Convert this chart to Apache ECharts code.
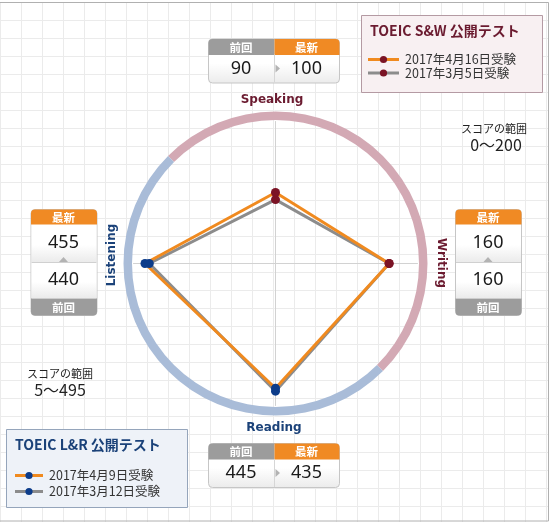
<!DOCTYPE html>
<html><head><meta charset="utf-8">
<script src="https://cdn.jsdelivr.net/npm/echarts@6/dist/echarts.min.js"></script>
<style>html,body{margin:0;padding:0;background:#fff;}#c{width:549px;height:522px;}</style>
</head><body><div id="c"></div>
<script>
// ---- data ----
const skills = ['Speaking', 'Listening', 'Reading', 'Writing'];   // counter-clockwise from top
const skillMax = [200, 495, 495, 200];
const skillTest = ['SW', 'LR', 'LR', 'SW'];
const latestScores = [100, 455, 435, 160];
const previousScores = [90, 440, 445, 160];
const swTitle = 'TOEIC S&W 公開テスト';
const lrTitle = 'TOEIC L&R 公開テスト';
const swDates = ['2017年4月16日受験', '2017年3月5日受験'];
const lrDates = ['2017年4月9日受験', '2017年3月12日受験'];
const rangeCaption = 'スコアの範囲';
const swRange = '0～200';
const lrRange = '5～495';
const headLatest = '最新';
const headPrev = '前回';
const ringShares = [1, 1];

// ---- style ----
const CENTER = [275.5, 263.5];
const R = 142;
const ORANGE = '#f08a1f', GRAY = '#8c8c8c', MAROON = '#7b1325', NAVY = '#0c3c8a';
const SW_TXT = '#6b1b30', LR_TXT = '#1b4279';
const JP = '"Noto Sans CJK JP", "Noto Sans", sans-serif';
const NUM = '"Noto Sans", "Noto Sans CJK JP", sans-serif';
const LAT = '"DejaVu Sans", sans-serif';

function dots(test, scores) {
  return skills.map((s, i) => skillTest[i] === test ? [scores[i], s] : null).filter(Boolean);
}
function txt(x, y, text, size, weight, family, fill, align, extra) {
  return Object.assign({
    type: 'text', x: x, y: y, silent: true,
    style: { text: text, fontSize: size, fontWeight: weight, fontFamily: family, fill: fill,
             align: align || 'center', verticalAlign: 'middle' }
  }, extra || {});
}
const cellGrad = { type: 'linear', x: 0, y: 0, x2: 0, y2: 1,
  colorStops: [{ offset: 0, color: '#ffffff' }, { offset: 0.55, color: '#ffffff' }, { offset: 1, color: '#ebebeb' }] };

function hBox(x, y, i) {
  const w = 131, h = 44, hh = 16, half = 66;
  return { type: 'group', x: x, y: y, silent: true, children: [
    { type: 'rect', shape: { x: 0.5, y: 0.5, width: w, height: h, r: 4 }, style: { fill: cellGrad, stroke: '#c6c6c6', lineWidth: 1 } },
    { type: 'rect', shape: { x: 0.5, y: 0.5, width: half, height: hh, r: [4, 0, 0, 0] }, style: { fill: '#9c9c9c' } },
    { type: 'rect', shape: { x: half + 0.5, y: 0.5, width: w - half, height: hh, r: [0, 4, 0, 0] }, style: { fill: '#f08a24' } },
    txt(half / 2, hh / 2 + 1, headPrev, 11.5, 'bold', JP, '#fff'),
    txt(half + (w - half) / 2, hh / 2 + 1, headLatest, 11.5, 'bold', JP, '#fff'),
    { type: 'line', shape: { x1: half + 0.5, y1: hh, x2: half + 0.5, y2: h }, style: { stroke: '#d6d6d6', lineWidth: 1 } },
    { type: 'polygon', shape: { points: [[half + 1.5, hh + 10], [half + 6, hh + 14], [half + 1.5, hh + 18]] }, style: { fill: '#b3b3b3' } },
    txt(half / 2, hh + 14, String(previousScores[i]), 18, 'normal', NUM, '#1a1a1a'),
    txt(half + (w - half) / 2, hh + 14, String(latestScores[i]), 18, 'normal', NUM, '#1a1a1a')
  ]};
}
function vBox(x, y, i) {
  const w = 66, h = 106, hh = 15, mid = 53, fh = 17;
  return { type: 'group', x: x, y: y, silent: true, children: [
    { type: 'rect', shape: { x: 0.5, y: 0.5, width: w, height: h, r: 4 }, style: { fill: '#fff', stroke: '#c6c6c6', lineWidth: 1 } },
    { type: 'rect', shape: { x: 1, y: hh, width: w - 1, height: mid - hh }, style: { fill: cellGrad } },
    { type: 'rect', shape: { x: 1, y: mid, width: w - 1, height: h - fh - mid }, style: { fill: cellGrad } },
    { type: 'rect', shape: { x: 0.5, y: 0.5, width: w, height: hh, r: [4, 4, 0, 0] }, style: { fill: '#f08a24' } },
    { type: 'rect', shape: { x: 0.5, y: h - fh + 0.5, width: w, height: fh, r: [0, 0, 4, 4] }, style: { fill: '#9c9c9c' } },
    txt(w / 2, hh / 2 + 1, headLatest, 11.5, 'bold', JP, '#fff'),
    txt(w / 2, h - fh / 2 + 1, headPrev, 11.5, 'bold', JP, '#fff'),
    { type: 'line', shape: { x1: 1, y1: mid + 0.5, x2: w, y2: mid + 0.5 }, style: { stroke: '#d0d0d0', lineWidth: 1 } },
    { type: 'polygon', shape: { points: [[w / 2 - 4.5, mid], [w / 2, mid - 5], [w / 2 + 4.5, mid]] }, style: { fill: '#b3b3b3' } },
    txt(w / 2, 34, String(latestScores[i]), 18, 'normal', NUM, '#1a1a1a'),
    txt(w / 2, 71, String(previousScores[i]), 18, 'normal', NUM, '#1a1a1a')
  ]};
}
function legendBox(x, y, w, h, fill, stroke, title, titleColor, dates, dotColor, lineX1, lineX2, textX, y1, y2) {
  const items = [];
  [ORANGE, GRAY].forEach((c, k) => {
    const yy = k === 0 ? y1 : y2;
    items.push({ type: 'line', shape: { x1: lineX1, y1: yy, x2: lineX2, y2: yy }, style: { stroke: c, lineWidth: 3 } });
    items.push({ type: 'circle', shape: { cx: (lineX1 + lineX2) / 2, cy: yy, r: 3.6 }, style: { fill: dotColor } });
    items.push(txt(textX, yy, dates[k], 12.5, 'normal', JP, '#333', 'left'));
  });
  return { type: 'group', x: x, y: y, silent: true, children: [
    { type: 'rect', shape: { x: 0, y: 0, width: w, height: h }, style: { fill: fill, stroke: stroke, lineWidth: 1 } },
    txt(8.5, 15, title, 14, 'bold', JP, titleColor, 'left')
  ].concat(items) };
}
function raise(el) {
  el.z = 100; el.zlevel = 0;
  if (el.children) el.children.forEach(raise);
  return el;
}

const hiddenAxis = { axisLine: { show: false }, axisTick: { show: false }, axisLabel: { show: false }, splitLine: { show: false }, splitArea: { show: false } };

const option = {
  animation: false,
  backgroundColor: '#ffffff',
  grid: { left: 0, right: 0, top: 2, bottom: 0, containLabel: false, outerBoundsMode: 'none', z: 0 },
  xAxis: { type: 'value', min: 0, max: 549, interval: 21, z: 0, axisLine: { show: false }, axisTick: { show: false }, axisLabel: { show: false },
           splitLine: { show: true, lineStyle: { color: '#ebebeb', width: 1 } } },
  yAxis: { type: 'value', inverse: true, min: 0, max: 520, interval: 18, z: 0, axisLine: { show: false }, axisTick: { show: false }, axisLabel: { show: false },
           splitLine: { show: true, lineStyle: { color: '#ebebeb', width: 1 } } },
  radar: {
    center: CENTER, radius: R, startAngle: 90, shape: 'circle', splitNumber: 1, z: 2,
    indicator: skills.map((s, i) => ({ name: s, min: 0, max: skillMax[i] })),
    axisName: { show: false },
    axisLine: { lineStyle: { color: '#d2d2d2', width: 1 } },
    splitLine: { show: false }, splitArea: { show: false }
  },
  polar: [{ center: CENTER, radius: R }, { center: CENTER, radius: R }],
  angleAxis: [0, 1].map(p => Object.assign({ polarIndex: p, type: 'category', data: skills, startAngle: 90, clockwise: false, boundaryGap: false }, hiddenAxis)),
  radiusAxis: [0, 1].map(p => Object.assign({ polarIndex: p, type: 'value', min: 0, max: p === 0 ? 200 : 495 }, hiddenAxis)),
  series: [
    { type: 'pie', center: CENTER, radius: [143.5, 152], startAngle: 135, clockwise: true, silent: true, z: 1,
      label: { show: false }, labelLine: { show: false }, itemStyle: { borderWidth: 0 },
      data: ringShares.map((v, i) => ({ value: v, name: i === 0 ? 'S&W' : 'L&R', itemStyle: { color: i === 0 ? '#d3a9b4' : '#a9bcd8' } })) },
    { type: 'radar', z: 3, silent: true, symbol: 'none',
      data: [
        { value: previousScores, name: 'previous', lineStyle: { color: GRAY, width: 3 }, itemStyle: { color: GRAY } },
        { value: latestScores, name: 'latest', lineStyle: { color: ORANGE, width: 3 }, itemStyle: { color: ORANGE } }
      ] },
    { type: 'scatter', coordinateSystem: 'polar', polarIndex: 0, z: 5, silent: true, symbolSize: 9, itemStyle: { color: MAROON, opacity: 1 }, data: dots('SW', previousScores) },
    { type: 'scatter', coordinateSystem: 'polar', polarIndex: 0, z: 5, silent: true, symbolSize: 9, itemStyle: { color: MAROON, opacity: 1 }, data: dots('SW', latestScores) },
    { type: 'scatter', coordinateSystem: 'polar', polarIndex: 1, z: 5, silent: true, symbolSize: 9, itemStyle: { color: NAVY, opacity: 1 }, data: dots('LR', previousScores) },
    { type: 'scatter', coordinateSystem: 'polar', polarIndex: 1, z: 5, silent: true, symbolSize: 9, itemStyle: { color: NAVY, opacity: 1 }, data: dots('LR', latestScores) }
  ],
  graphic: {
    z: 100,
    elements: [
      { type: 'rect', silent: true, shape: { x: -5.5, y: 2.5, width: 554, height: 518.5 }, style: { fill: null, stroke: '#b0b0b0', lineWidth: 1 } },
      hBox(208, 38.5, 0),
      hBox(208, 443, 2),
      vBox(30.5, 209, 1),
      vBox(455, 209, 3),
      txt(272, 100, skills[0], 12, 'bold', LAT, SW_TXT),
      txt(274, 428, skills[2], 12, 'bold', LAT, LR_TXT),
      txt(111.5, 255, skills[1], 12, 'bold', LAT, LR_TXT, 'center', { rotation: Math.PI / 2 }),
      txt(441.5, 263, skills[3], 12, 'bold', LAT, SW_TXT, 'center', { rotation: -Math.PI / 2 }),
      txt(494, 129, rangeCaption, 11, 'normal', JP, '#222'),
      txt(496, 145, swRange, 16, 'normal', JP, '#222'),
      txt(60, 374, rangeCaption, 11, 'normal', JP, '#222'),
      txt(60, 390, lrRange, 16, 'normal', JP, '#222'),
      legendBox(361.5, 15.5, 181, 77, '#f8f0f2', '#b49aa3', swTitle, SW_TXT, swDates, MAROON, 6.5, 37.5, 43.5, 44, 57.5),
      legendBox(6.5, 429.5, 181, 78, '#eef2f8', '#95a5bb', lrTitle, LR_TXT, lrDates, NAVY, 8.5, 36.5, 42.5, 46, 62)
    ].map(raise)
  }
};
const chart = echarts.init(document.getElementById('c'), null, { renderer: 'canvas' });
chart.setOption(option);
</script></body></html>
